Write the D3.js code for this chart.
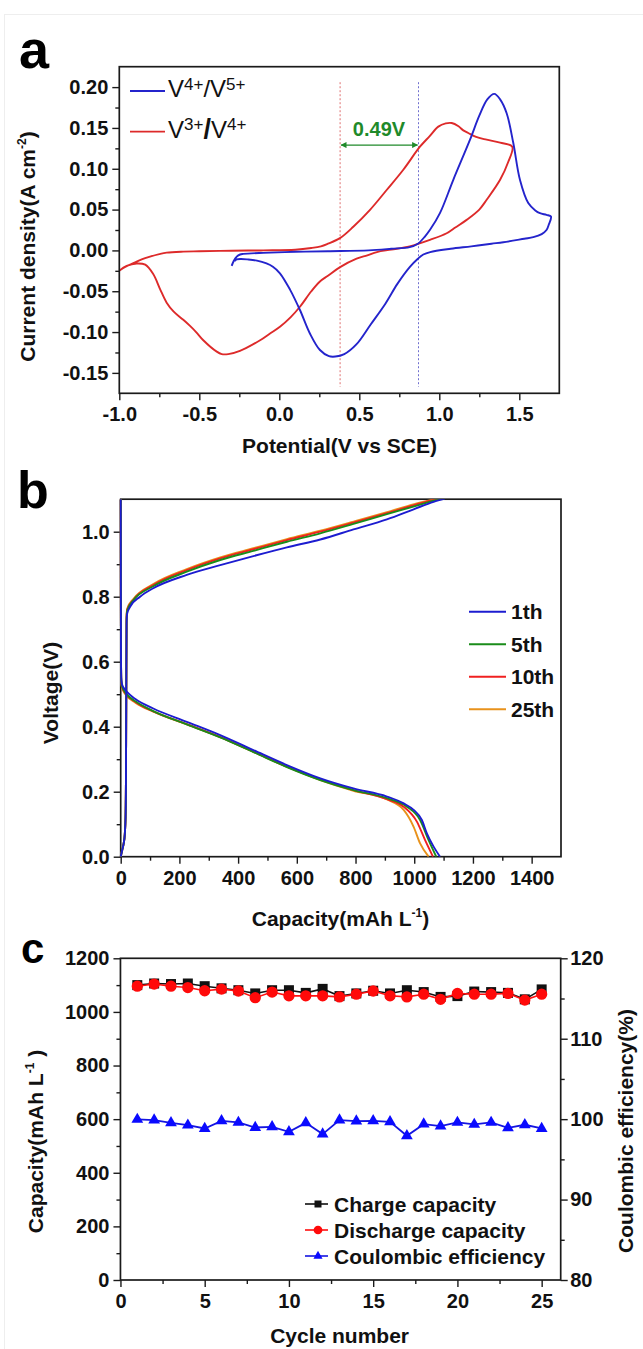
<!DOCTYPE html>
<html><head><meta charset="utf-8">
<script src="https://cdn.jsdelivr.net/npm/d3@7"></script>
<style>
html,body{margin:0;padding:0;background:#fff;}
svg{display:block;}
</style>
</head><body>
<svg id="fig" width="643" height="1349"></svg>
<script>
// ---------------- DATA ----------------
// Panel a: cyclic voltammograms [potential V vs SCE, current density A cm^-2]
const cvBlue = [[-0.2975,-0.019],[-0.285,-0.013],[-0.266,-0.0076],[-0.245,-0.005],[-0.225,-0.0043],[-0.1,-0.003],[0.1,-0.0017],[0.304,-0.001],[0.559,0.0],[0.7,0.002],[0.815,0.004],[0.866,0.0082],[0.91,0.017],[0.942,0.0252],[1.004,0.0456],[1.0875,0.0865],[1.192,0.1356],[1.25,0.165],[1.3,0.185],[1.344,0.1917],[1.38,0.185],[1.421,0.168],[1.4625,0.1315],[1.504,0.0865],[1.556,0.058],[1.6,0.049],[1.629,0.0456],[1.67,0.0435],[1.698,0.0415],
  [1.685,0.032],[1.67,0.025],[1.64,0.02],[1.5875,0.0162],[1.531,0.0143],[1.4,0.01],[1.326,0.0082],[1.2,0.005],[1.071,0.002],[0.943,-0.002],[0.9,-0.005],[0.866,-0.0102],[0.815,-0.0205],[0.738,-0.041],[0.662,-0.0656],[0.57,-0.091],[0.483,-0.1148],[0.406,-0.127],[0.35,-0.130],[0.31,-0.1295],[0.254,-0.122],[0.192,-0.102],[0.129,-0.073],[0.067,-0.048],[0.004,-0.028],[-0.04,-0.02],[-0.08,-0.016],[-0.14,-0.0125],[-0.2,-0.011],[-0.24,-0.0105],[-0.266,-0.011],[-0.28,-0.013]];
const cvRed = [[-1.0,-0.0248],[-0.96,-0.020],[-0.912,-0.0157],[-0.86,-0.011],[-0.808,-0.0076],[-0.75,-0.0045],[-0.704,-0.0027],[-0.6,-0.0015],[-0.5,-0.0011],[-0.3,-0.0004],[-0.1,0.0],[0.1,0.0008],[0.2,0.0029],[0.26,0.005],[0.304,0.0082],[0.379,0.015],[0.4625,0.029],[0.567,0.0497],[0.671,0.074],[0.775,0.0988],[0.879,0.127],[0.94,0.140],[0.994,0.1516],[1.04,0.1555],[1.0775,0.156],[1.12,0.152],[1.15,0.147],[1.181,0.1438],[1.23,0.139],[1.296,0.1356],[1.38,0.132],[1.456,0.127],
  [1.43,0.108],[1.38,0.0865],[1.296,0.062],[1.25,0.05],[1.171,0.0374],[1.1,0.028],[1.046,0.021],[0.942,0.013],[0.815,0.005],[0.7,0.001],[0.61,-0.002],[0.55,-0.006],[0.483,-0.0102],[0.38,-0.0205],[0.304,-0.031],[0.254,-0.038],[0.2,-0.05],[0.129,-0.069],[0.07,-0.082],[0.004,-0.0935],[-0.06,-0.102],[-0.12,-0.11],[-0.246,-0.123],[-0.319,-0.127],[-0.36,-0.127],[-0.391,-0.124],[-0.475,-0.11],[-0.52,-0.1],[-0.558,-0.0925],[-0.6,-0.085],[-0.66,-0.075],[-0.704,-0.064],[-0.746,-0.047],[-0.788,-0.029],[-0.838,-0.0175],[-0.891,-0.016],[-0.954,-0.019],[-1.0,-0.0248]];
const cvLabels = ["V4+/V5+", "V3+/V4+"];
const peakPotentials = [0.38, 0.87];   // dotted guide lines
const peakSeparation = "0.49V";

// Panel b: charge / discharge curves [capacity mAh L^-1, voltage V]
const cycleNames = ["1th", "5th", "10th", "25th"];
const charge1 = [[0,0],[5,0.02],[10,0.04],[14,0.07],[16.5,0.12],[18,0.25],[19,0.5],[20,0.72],[22,0.748],[32,0.769],[66,0.8],[111,0.826],[225,0.867],[339,0.897],[452,0.925],[566,0.952],[680,0.976],[793,1.007],[907,1.038],[998,1.069],[1066,1.092],[1104,1.102]];
const charge5 = [[0,0],[5,0.02],[10,0.04],[14,0.07],[16.5,0.12],[18,0.25],[19,0.5],[20,0.73],[22,0.756],[40,0.786],[111,0.832],[225,0.877],[339,0.913],[452,0.941],[566,0.969],[680,0.995],[793,1.024],[907,1.054],[1000,1.078],[1090,1.102]];
const charge10 = [[0,0],[5,0.02],[10,0.04],[14,0.07],[16.5,0.12],[18,0.25],[19,0.5],[20,0.735],[22,0.76],[43,0.79],[111,0.836],[225,0.882],[339,0.918],[452,0.946],[566,0.974],[680,1.0],[793,1.028],[907,1.057],[1000,1.082],[1082,1.102]];
const charge25 = [[0,0],[5,0.02],[10,0.04],[14,0.07],[16.5,0.12],[18,0.25],[19,0.5],[20,0.738],[22,0.763],[43,0.793],[111,0.839],[225,0.885],[339,0.921],[452,0.949],[566,0.977],[680,1.003],[793,1.031],[907,1.06],[1000,1.085],[1078,1.102]];
const discharge1 = [[0,1.1],[0.5,0.8],[1,0.62],[2,0.55],[4,0.532],[10,0.52],[20.5,0.508],[50,0.485],[111,0.456],[225,0.415],[339,0.374],[452,0.328],[566,0.282],[680,0.241],[793,0.21],[907,0.185],[964,0.164],[998,0.144],[1026,0.113],[1043,0.072],[1066,0.031],[1088,0]];
const discharge5 = [[0,1.1],[0.5,0.8],[1,0.62],[2,0.545],[4,0.527],[10,0.513],[20,0.5],[50,0.478],[111,0.448],[225,0.407],[339,0.367],[452,0.322],[566,0.276],[680,0.236],[793,0.205],[907,0.18],[975,0.154],[1020,0.113],[1049,0.051],[1075,0]];
const discharge10 = [[0,1.1],[0.5,0.8],[1,0.62],[2,0.543],[4,0.525],[10,0.511],[20,0.498],[50,0.476],[111,0.447],[225,0.408],[339,0.368],[452,0.323],[566,0.277],[680,0.237],[793,0.205],[907,0.177],[964,0.154],[1009,0.108],[1037,0.051],[1064,0]];
const discharge25 = [[0,1.1],[0.5,0.8],[1,0.62],[2,0.54],[4,0.522],[10,0.508],[20,0.495],[50,0.474],[111,0.446],[225,0.407],[339,0.368],[452,0.323],[566,0.277],[680,0.236],[793,0.203],[907,0.176],[964,0.144],[998,0.092],[1020,0.041],[1049,0]];

// Panel c: cycling performance
const cycles = d3.range(1, 26);
const chargeCapacity    = [1100,1106,1104,1106,1096,1088,1081,1069,1081,1081,1071,1086,1059,1069,1079,1069,1081,1074,1056,1059,1076,1074,1071,1047,1084];
const dischargeCapacity = [1096,1104,1096,1091,1079,1085,1078,1053,1074,1060,1060,1060,1056,1066,1078,1060,1056,1066,1047,1069,1066,1066,1069,1044,1066];
const coulombicEff      = [99.96,99.88,99.54,99.25,98.84,99.79,99.59,98.96,99.05,98.43,99.54,98.14,99.88,99.75,99.79,99.67,97.93,99.38,99.13,99.59,99.34,99.59,98.92,99.3,98.84];
const legendC = ["Charge capacity", "Discharge capacity", "Coulombic efficiency"];

// tick values
const aXTicks = [-1.0,-0.5,0.0,0.5,1.0,1.5], aXMinor = [-0.75,-0.25,0.25,0.75,1.25];
const aYTicks = [-0.15,-0.10,-0.05,0.00,0.05,0.10,0.15,0.20], aYMinor = [-0.125,-0.075,-0.025,0.025,0.075,0.125,0.175];
const bXTicks = [0,200,400,600,800,1000,1200,1400], bXMinor = [100,300,500,700,900,1100,1300];
const bYTicks = [0.0,0.2,0.4,0.6,0.8,1.0], bYMinor = [0.1,0.3,0.5,0.7,0.9];
const cXTicks = [0,5,10,15,20,25], cXMinor = [2.5,7.5,12.5,17.5,22.5];
const cYTicks = [0,200,400,600,800,1000,1200], cYMinor = [100,300,500,700,900,1100];
const cY2Ticks = [80,90,100,110,120], cY2Minor = [85,95,105,115];

// ---------------- DRAWING ----------------
const FONT = '"Liberation Sans", Arial, Helvetica, sans-serif';
const svg = d3.select("#fig");
const INK = "#1a1a1a";

// faint image border
svg.append("rect").attr("x",4.5).attr("y",14.5).attr("width",660).attr("height",1400)
  .attr("fill","none").attr("stroke","#eeeeee").attr("stroke-width",1);

function drawAxis(gen, scale, pos, majors, minors, fmt, pad, horizontal) {
  const tr = horizontal ? `translate(0,${pos})` : `translate(${pos},0)`;
  const gm = svg.append("g").attr("transform", tr)
    .call(gen(scale).tickValues(minors).tickSize(4).tickSizeOuter(0).tickFormat(""));
  gm.select(".domain").remove();
  gm.selectAll(".tick line").attr("stroke", INK).attr("stroke-width", 1.4);
  const g = svg.append("g").attr("transform", tr)
    .call(gen(scale).tickValues(majors).tickSize(7).tickSizeOuter(0).tickPadding(pad).tickFormat(fmt));
  g.select(".domain").remove();
  g.selectAll(".tick line").attr("stroke", INK).attr("stroke-width", 1.4);
  g.selectAll(".tick text").attr("font-family", FONT).attr("font-size", 20)
    .attr("font-weight", "bold").attr("fill", "#111");
  return g;
}
function frame(x, y) {
  const [x0, x1] = x.range(), [y1, y0] = y.range();
  svg.append("rect").attr("x", x0).attr("y", y0).attr("width", x1 - x0).attr("height", y1 - y0)
    .attr("fill", "none").attr("stroke", INK).attr("stroke-width", 1.7);
}
// text with superscripts: parts = [[str, isSup, opts], ...]
function rich(x, y, parts, size, weight, rotate, anchor) {
  const t = svg.append("text").attr("font-family", FONT).attr("font-size", size)
    .attr("font-weight", weight).attr("fill", "#111").attr("text-anchor", anchor || "middle");
  if (rotate) t.attr("transform", `translate(${x},${y}) rotate(-90)`);
  else t.attr("x", x).attr("y", y);
  let raised = 0;
  parts.forEach(([s, sup, opt]) => {
    const ts = t.append("tspan").text(s);
    const target = sup ? -(opt && opt.rise || size * 0.42) : 0;
    if (target !== raised) { ts.attr("dy", target - raised); raised = target; }
    if (sup) ts.attr("font-size", (opt && opt.size) || size * 0.62);
    if (opt && opt.weight) ts.attr("font-weight", opt.weight);
    if (opt && opt.fs) ts.attr("font-size", opt.fs);
  });
  return t;
}
function panelLabel(x, y, s, size) {
  svg.append("text").attr("x", x).attr("y", y).attr("font-family", FONT).attr("font-size", size)
    .attr("font-weight", "bold").attr("fill", "#000").text(s);
}

// ===== Panel a =====
const xA = d3.scaleLinear().domain([-1, 1.75]).range([119.3, 559.3]);
const yA = d3.scaleLinear().domain([-0.175, 0.225]).range([393.3, 66.7]);
drawAxis(d3.axisBottom, xA, 393.3, aXTicks, aXMinor, d => d.toFixed(1), 7, true);
drawAxis(d3.axisLeft, yA, 119.3, aYTicks, aYMinor, d => d.toFixed(2), 4, false);

// dotted guide lines
const guideCol = ["#e07070", "#7070d0"];
peakPotentials.forEach((p, i) => {
  svg.append("line").attr("x1", xA(p)).attr("x2", xA(p)).attr("y1", yA(0.206)).attr("y2", yA(-0.167))
    .attr("stroke", guideCol[i]).attr("stroke-width", 1).attr("stroke-dasharray", "2,2");
});
const lineA = d3.line().x(d => xA(d[0])).y(d => yA(d[1])).curve(d3.curveCatmullRom.alpha(0.5));
svg.append("path").attr("d", lineA(cvRed)).attr("fill", "none").attr("stroke", "#dd2a2a").attr("stroke-width", 1.9);
svg.append("path").attr("d", lineA(cvBlue)).attr("fill", "none").attr("stroke", "#2424cc").attr("stroke-width", 1.9);

// green double arrow
const defs = svg.append("defs");
defs.append("marker").attr("id", "arrG").attr("viewBox", "0 0 10 10").attr("refX", 9).attr("refY", 5)
  .attr("markerWidth", 7).attr("markerHeight", 6).attr("markerUnits", "userSpaceOnUse").attr("orient", "auto-start-reverse")
  .append("path").attr("d", "M0,0 L10,5 L0,10 z").attr("fill", "#1f8a2a");
svg.append("line").attr("x1", xA(peakPotentials[0]) + 1).attr("x2", xA(peakPotentials[1]) - 1)
  .attr("y1", yA(0.129)).attr("y2", yA(0.129)).attr("stroke", "#1f8a2a").attr("stroke-width", 1.3)
  .attr("marker-start", "url(#arrG)").attr("marker-end", "url(#arrG)");
svg.append("text").attr("x", xA(0.623)).attr("y", yA(0.1405)).attr("text-anchor", "middle")
  .attr("font-family", FONT).attr("font-size", 20).attr("font-weight", "bold").attr("fill", "#1f8a2a").text(peakSeparation);

frame(xA, yA);

// legend a
const legA = [{c: "#2424cc", y: 91, parts: [["V"],["4+", true],["/"],["V"],["5+", true]]},
              {c: "#dd2a2a", y: 131.7, parts: [["V"],["3+", true],["/", false, {weight: "bold", fs: 27}],["V"],["4+", true]]}];
legA.forEach((L, i) => {
  svg.append("line").attr("x1", 130).attr("x2", 165).attr("y1", L.y).attr("y2", L.y).attr("stroke", L.c).attr("stroke-width", 1.8);
  rich(168, L.y + 6, L.parts.map(p => [p[0], !!p[1], Object.assign({size: 17, rise: 7.5}, p[2] || {})]), 24, "normal", false, "start")
    .attr("aria-label", cvLabels[i]);
});

// titles a
rich(34.5, 246.5, [["Current density(A cm"], ["-2", true, {size: 12, rise: 9}], [")"]], 21, "bold", true);
svg.append("text").attr("x", 339.5).attr("y", 453).attr("text-anchor", "middle").attr("font-family", FONT)
  .attr("font-size", 21).attr("font-weight", "bold").attr("fill", "#111").text("Potential(V vs SCE)");
panelLabel(19, 68, "a", 54);

// ===== Panel b =====
const xB = d3.scaleLinear().domain([0, 1500]).range([120.7, 561]);
const yB = d3.scaleLinear().domain([0, 1.1]).range([856.7, 499.2]);
drawAxis(d3.axisBottom, xB, 856.7, bXTicks, bXMinor, d => String(d), 7, true);
drawAxis(d3.axisLeft, yB, 120.7, bYTicks, bYMinor, d => d.toFixed(1), 4, false);
frame(xB, yB);
defs.append("clipPath").attr("id", "clipB").append("rect")
  .attr("x", 118.5).attr("y", 499.2).attr("width", 561 - 118.5).attr("height", 856.7 - 499.2);
const lineB = d3.line().x(d => xB(d[0])).y(d => yB(d[1])).curve(d3.curveMonotoneX);
const colB = ["#1c1cd0", "#1a8c1a", "#f02020", "#e8921c"];
const seriesB = [[charge1, discharge1], [charge5, discharge5], [charge10, discharge10], [charge25, discharge25]];
const gB = svg.append("g").attr("clip-path", "url(#clipB)");
[3, 2, 1, 0].forEach(i => {
  seriesB[i].forEach(arr => {
    gB.append("path").attr("d", lineB(arr)).attr("fill", "none").attr("stroke", colB[i]).attr("stroke-width", 1.9);
  });
});
cycleNames.forEach((n, i) => {
  const yy = 611.7 + i * 32.5;
  svg.append("line").attr("x1", 469).attr("x2", 506).attr("y1", yy).attr("y2", yy).attr("stroke", colB[i]).attr("stroke-width", 1.9);
  svg.append("text").attr("x", 511).attr("y", yy + 7.5).attr("font-family", FONT).attr("font-size", 21)
    .attr("font-weight", "bold").attr("fill", "#111").text(n);
});
svg.append("text").attr("transform", "translate(58,693) rotate(-90)").attr("text-anchor", "middle")
  .attr("font-family", FONT).attr("font-size", 21).attr("font-weight", "bold").attr("fill", "#111").text("Voltage(V)");
rich(340.5, 926, [["Capacity(mAh L"], ["-1", true, {size: 12, rise: 9}], [")"]], 21, "bold", false);
panelLabel(17, 508, "b", 52);

// ===== Panel c =====
const xC = d3.scaleLinear().domain([0, 26.13]).range([120.45, 560.7]);
const yC = d3.scaleLinear().domain([0, 1200]).range([1280, 958.3]);
const yC2 = d3.scaleLinear().domain([80, 120]).range([1280, 958.3]);
drawAxis(d3.axisBottom, xC, 1280, cXTicks, cXMinor, d => String(d), 7, true);
drawAxis(d3.axisLeft, yC, 120.45, cYTicks, cYMinor, d => String(d), 4, false);
drawAxis(d3.axisRight, yC2, 560.7, cY2Ticks, cY2Minor, d => String(d), 2.5, false);

const chData = cycles.map((c, i) => [c, chargeCapacity[i]]);
const disData = cycles.map((c, i) => [c, dischargeCapacity[i]]);
const ceData = cycles.map((c, i) => [c, coulombicEff[i]]);
const lineC = d3.line().x(d => xC(d[0])).y(d => yC(d[1]));
const lineC2 = d3.line().x(d => xC(d[0])).y(d => yC2(d[1]));
const sq = d3.symbol().type(d3.symbolSquare).size(100);
const ci = d3.symbol().type(d3.symbolCircle).size(100);
const tri = d3.symbol().type(d3.symbolTriangle).size(60);

svg.append("path").attr("d", lineC(chData)).attr("fill", "none").attr("stroke", "#111").attr("stroke-width", 1.6);
svg.append("g").selectAll("path").data(chData).join("path").attr("d", sq)
  .attr("transform", d => `translate(${xC(d[0])},${yC(d[1])})`).attr("fill", "#111");
svg.append("path").attr("d", lineC(disData)).attr("fill", "none").attr("stroke", "#ff1010").attr("stroke-width", 1.6);
svg.append("g").selectAll("path").data(disData).join("path").attr("d", ci)
  .attr("transform", d => `translate(${xC(d[0])},${yC(d[1])})`).attr("fill", "#ff0a0a");
svg.append("path").attr("d", lineC2(ceData)).attr("fill", "none").attr("stroke", "#1515e0").attr("stroke-width", 1.8);
svg.append("g").selectAll("path").data(ceData).join("path").attr("d", tri)
  .attr("transform", d => `translate(${xC(d[0])},${yC2(d[1])})`).attr("fill", "#0a0aff");
frame(xC, yC);

// legend c
const legSym = [d3.symbol().type(d3.symbolSquare).size(49), d3.symbol().type(d3.symbolCircle).size(60), d3.symbol().type(d3.symbolTriangle).size(36)];
const legCol = [["#111", "#111"], ["#ff1010", "#ff0a0a"], ["#1515e0", "#0a0aff"]];
legendC.forEach((s, i) => {
  const yy = 1204 + i * 26;
  svg.append("line").attr("x1", 305).attr("x2", 328).attr("y1", yy).attr("y2", yy).attr("stroke", legCol[i][0]).attr("stroke-width", 1.6);
  svg.append("path").attr("d", legSym[i]()).attr("transform", `translate(318,${yy})`).attr("fill", legCol[i][1]);
  svg.append("text").attr("x", 334).attr("y", yy + 7.5).attr("font-family", FONT).attr("font-size", 21)
    .attr("font-weight", "bold").attr("fill", "#111").text(s);
});
rich(43, 1141.5, [["Capacity(mAh L"], ["-1", true, {size: 12, rise: 9}], [" )"]], 21, "bold", true);
svg.append("text").attr("transform", "translate(633,1131) rotate(-90)").attr("text-anchor", "middle")
  .attr("font-family", FONT).attr("font-size", 21).attr("font-weight", "bold").attr("fill", "#111").text("Coulombic efficiency(%)");
svg.append("text").attr("x", 339.6).attr("y", 1343).attr("text-anchor", "middle").attr("font-family", FONT)
  .attr("font-size", 21).attr("font-weight", "bold").attr("fill", "#111").text("Cycle number");
panelLabel(21, 963, "c", 42);
</script>
</body></html>
